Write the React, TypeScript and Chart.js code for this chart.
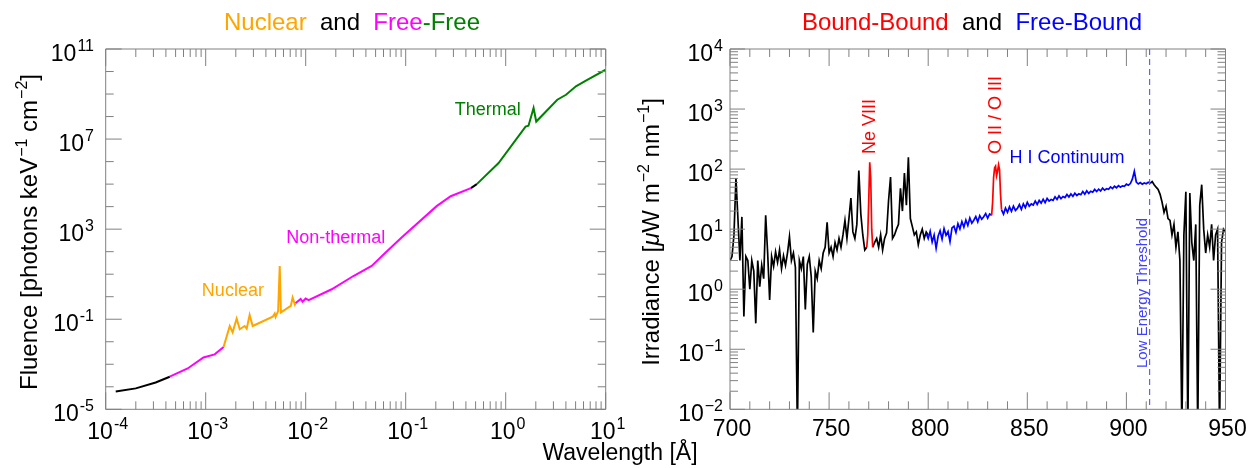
import React, { useEffect, useRef } from 'react';
import { Chart, registerables } from 'chart.js';
Chart.register(...registerables);

const FONT = '"Liberation Sans", Arial, Helvetica, sans-serif';
const W = 1255;
const H = 468;

// ---------------- Left panel data (wavelength [Å], fluence) ----------------
const leftBlackLowWl = [1.26e-4, 2.0e-4, 3.16e-4, 4.37e-4];
const leftBlackLowFl = [6.2e-5, 8.5e-5, 1.55e-4, 2.8e-4];

const leftMagentaLowWl = [4.37e-4, 6.6e-4, 9.5e-4, 1.23e-3, 1.51e-3];
const leftMagentaLowFl = [2.8e-4, 6.5e-4, 2.0e-3, 2.75e-3, 5.9e-3];

const nuclearWl = [1.51e-3, 1.74e-3, 1.86e-3, 2.04e-3, 2.19e-3, 2.45e-3, 2.57e-3, 2.75e-3, 2.95e-3, 4.68e-3, 4.9e-3, 5.0e-3, 5.3e-3, 5.5e-3, 5.65e-3, 7.1e-3, 7.4e-3, 7.8e-3, 7.9e-3];
const nuclearFl = [5.9e-3, 0.05, 0.026, 0.107, 0.036, 0.05, 0.038, 0.155, 0.05, 0.13, 0.18, 0.126, 0.23, 23, 0.2, 0.39, 0.91, 0.45, 0.51];

const nonThermalWl = [7.9e-3, 8.9e-3, 9.3e-3, 1.0e-2, 1.07e-2, 1.82e-2, 3.0e-2, 4.57e-2, 6.3e-2, 9.1e-2, 0.204, 0.282, 0.449];
const nonThermalFl = [0.51, 0.79, 0.6, 0.83, 0.71, 2.14, 8.3, 23.4, 91, 427, 1.05e4, 2.9e4, 6.6e4];

const leftBlackHighWl = [0.449, 0.514];
const leftBlackHighFl = [6.6e4, 1.0e5];

const thermalWl = [0.514, 0.849, 1.58, 1.69, 1.9, 2.02, 3.28, 4.01, 5.04, 6.34, 10];
const thermalFl = [1.0e5, 8.6e5, 3.6e7, 3.9e7, 2.4e8, 6.0e7, 5.6e8, 9.3e8, 2.2e9, 3.9e9, 1.2e10];

const leftXExps = [-4, -3, -2, -1, 0, 1];
const leftYTickExps = [-5, -4, -3, -2, -1, 0, 1, 2, 3, 4, 5, 6, 7, 8, 9, 10, 11];
const leftYLabelExps = [-5, -1, 3, 7, 11];

// ---------------- Right panel data (wavelength [Å], irradiance) ----------------
const blackShortStart = 700; // 1 Å sampling
const blackShortIrr = [
  3, 3.5, 8, 71, 15, 3, 16, 0.35, 3.5, 3,
  1, 3, 2, 0.27, 3, 1.1, 2.5, 1.5, 17, 4,
  0.66, 3.5, 2.4, 4.2, 2.8, 4.5, 2.2, 3.6, 2.5, 4,
  7.5, 3, 4, 2.3, 0.004, 3, 2.2, 3.5, 0.46, 2.6,
  3.5, 1.6, 0.19, 2, 1.5, 3, 2.2, 4, 5, 13,
  4, 5, 3.5, 6, 4.5, 7, 5, 8, 14, 7,
  15, 33, 9, 7, 12, 95, 18, 8, 4.5, 5,
  null, null, 5, 6, 7, 5, 8, 4.5, 7, 8.6,
  30, 74, 7, 8, 10, 12, 48, 20, 86, 25,
  158, 15, 11, 8, 9, 5.5, 8, 10, 7, 9,
  8,
];

const blueStart = 799; // 1 Å sampling
const blueIrr = [
  8.5, 7, 9.2, 6.1, 8, 4.8, 7.6, 9.4, 6.8, 10.2,
  7.9, 9.1, 6.2, 10.5, 11.2, 8.8, 12.3, 10.1, 13.4, 10.8,
  14.2, 11.5, 15.3, 12.6, 14.1, 16.2, 13.2, 16.8, 14.6, 16.1,
  18.2, 15.2, 17.9, 17, null, null, null, null, 21, 17.8,
  22.4, 19.1, 23.5, 19.8, 24.2, 20.5, 22.1, 25.6, 21.3, 26.4,
  22.8, 27.9, 24.1, 26.3, 25.2, 29.4, 25.8, 30.1, 27.2, 31.5,
  27.6, 32.4, 29.3, 31.1, 30.2, 34.5, 31.2, 35.8, 32.1, 34.9,
  33.6, 37.8, 34.2, 38.5, 35.1, 39.7, 36.4, 38.8, 37.5, 42.3,
  38.1, 43.6, 39.4, 42.8, 41.2, 45.9, 42.4, 46.3, 43.1, 48.2,
  44.5, 47.1, 46.2, 50.4, 47.3, 51.8, 48.9, 53.2, 50.1, 52.6,
  51.7, 56.1, 53.8, 57.4, 68, 92, 61, 56.5, 59.8, 56.2,
  58.9, 57.1, 60.2, 58,
];

const blackLongStart = 912; // 1 Å sampling
const blackLongIrr = [
  58, 62, 55, 50, 46, 38, 28, 19, 24, 15,
  14, 8, 12, 5, 9, 3, 0.004, 8, 42, 0.004,
  40, 6, 3, 12, 0.004, 25, 55, 10, 4, 8,
  5, 12, 3, 8, 10, 0.004, 6, 10, 9,
];

const neViiiWl = [769, 769.5, 770, 770.5, 771, 771.5, 772];
const neViiiIrr = [5, 8, 30, 130, 70, 10, 5];

const oxygenWl = [832, 832.5, 833, 833.5, 834, 834.5, 835, 835.5, 836, 836.5, 837];
const oxygenIrr = [17, 28, 72, 105, 112, 78, 92, 118, 98, 38, 21];

const thresholdWl = 911.7;
const rightXTicks = [700, 750, 800, 850, 900, 950];
const rightYExps = [-2, -1, 0, 1, 2, 3, 4];

// ---------------- colours ----------------
const ORANGE = '#ffa500';
const MAGENTA = '#ff00ff';
const GREEN = '#008000';
const RED = '#ff0000';
const BLUE = '#0000ff';
const AXIS = '#808080';

type Seg = { text: string; color: string; italic?: boolean; sup?: boolean };

function fontFor(s: Seg, size: number, supSize: number) {
  return `${s.italic ? 'italic ' : ''}${s.sup ? supSize : size}px ${FONT}`;
}

function drawSegments(ctx: CanvasRenderingContext2D, segs: Seg[], x: number, y: number, size: number, supSize: number, raise: number, align: 'left' | 'center' | 'right') {
  ctx.textAlign = 'left';
  ctx.textBaseline = 'alphabetic';
  const widths = segs.map((s) => {
    ctx.font = fontFor(s, size, supSize);
    return ctx.measureText(s.text).width + (s.sup ? 1 : 0);
  });
  const total = widths.reduce((a, b) => a + b, 0);
  let cx = align === 'center' ? x - total / 2 : align === 'right' ? x - total : x;
  segs.forEach((s, i) => {
    ctx.font = fontFor(s, size, supSize);
    ctx.fillStyle = s.color;
    ctx.fillText(s.text, cx + (s.sup ? 1 : 0), s.sup ? y - raise : y);
    cx += widths[i];
  });
}

function pow(exp: number, minus: string): Seg[] {
  const e = exp < 0 ? minus + Math.abs(exp) : String(exp);
  return [
    { text: '10', color: '#000' },
    { text: e, color: '#000', sup: true },
  ];
}

function line(ctx: CanvasRenderingContext2D, x1: number, y1: number, x2: number, y2: number) {
  ctx.moveTo(x1, y1);
  ctx.lineTo(x2, y2);
}

function ds(xs: number[], ys: (number | null)[], color: string, width: number, order: number) {
  return {
    data: xs.map((x, i) => ({ x, y: ys[i] })),
    borderColor: color,
    borderWidth: width,
    pointRadius: 0,
    tension: 0,
    fill: false,
    spanGaps: false,
    order,
  };
}

function grid(start: number, n: number) {
  const out: number[] = [];
  for (let i = 0; i < n; i++) out.push(start + i);
  return out;
}

const leftPlugin = {
  id: 'leftDecor',
  afterDraw(chart: any) {
    const ctx: CanvasRenderingContext2D = chart.ctx;
    const { left, right, top, bottom } = chart.chartArea;
    const xs = chart.scales.x;
    const ys = chart.scales.y;
    ctx.save();
    ctx.strokeStyle = AXIS;
    ctx.lineWidth = 1;
    ctx.beginPath();
    ctx.rect(left, top, right - left, bottom - top);
    leftXExps.forEach((d) => {
      const px = xs.getPixelForValue(Math.pow(10, d));
      line(ctx, px, bottom, px, bottom - 17);
      line(ctx, px, top, px, top + 17);
      if (d < leftXExps[leftXExps.length - 1]) {
        for (let k = 2; k <= 9; k++) {
          const p2 = xs.getPixelForValue(k * Math.pow(10, d));
          line(ctx, p2, bottom, p2, bottom - 8);
          line(ctx, p2, top, p2, top + 8);
        }
      }
    });
    leftYTickExps.forEach((d) => {
      const py = ys.getPixelForValue(Math.pow(10, d));
      const len = leftYLabelExps.includes(d) ? 16 : 8;
      line(ctx, left, py, left + len, py);
      line(ctx, right, py, right - len, py);
    });
    ctx.stroke();

    // tick labels
    leftXExps.forEach((d) => {
      const px = xs.getPixelForValue(Math.pow(10, d));
      drawSegments(ctx, pow(d, '-'), px + 2, 439, 23, 16, 10, 'center');
    });
    leftYLabelExps.forEach((d) => {
      const py = ys.getPixelForValue(Math.pow(10, d));
      drawSegments(ctx, pow(d, '-'), 94, py + 12, 23, 16, 10, 'right');
    });

    // title
    drawSegments(ctx, [
      { text: 'Nuclear', color: ORANGE },
      { text: '  and  ', color: '#000' },
      { text: 'Free', color: MAGENTA },
      { text: '-', color: GREEN },
      { text: 'Free', color: GREEN },
    ], 352, 30, 24, 16, 10, 'center');

    // y axis title
    ctx.save();
    ctx.translate(37, 232);
    ctx.rotate(-Math.PI / 2);
    drawSegments(ctx, [
      { text: 'Fluence [photons keV', color: '#000' },
      { text: '\u22121', color: '#000', sup: true },
      { text: ' cm', color: '#000' },
      { text: '\u22122', color: '#000', sup: true },
      { text: ']', color: '#000' },
    ], 0, 0, 24, 16, 10, 'center');
    ctx.restore();

    // annotations
    ctx.textAlign = 'center';
    ctx.textBaseline = 'middle';
    ctx.font = `18px ${FONT}`;
    ctx.fillStyle = GREEN;
    ctx.fillText('Thermal', xs.getPixelForValue(0.66), ys.getPixelForValue(2.0e8));
    ctx.fillStyle = MAGENTA;
    ctx.fillText('Non-thermal', xs.getPixelForValue(0.02), ys.getPixelForValue(400));
    ctx.fillStyle = ORANGE;
    ctx.fillText('Nuclear', xs.getPixelForValue(1.87e-3), ys.getPixelForValue(1.7));
    ctx.restore();
  },
};

const rightPlugin = {
  id: 'rightDecor',
  afterDraw(chart: any) {
    const ctx: CanvasRenderingContext2D = chart.ctx;
    const { left, right, top, bottom } = chart.chartArea;
    const xs = chart.scales.x;
    const ys = chart.scales.y;
    ctx.save();

    // threshold dashed line
    const tx = xs.getPixelForValue(thresholdWl);
    ctx.strokeStyle = '#6060ff';
    ctx.lineWidth = 1.2;
    ctx.setLineDash([6, 4]);
    ctx.beginPath();
    line(ctx, tx, top, tx, bottom);
    ctx.stroke();
    ctx.setLineDash([]);

    ctx.strokeStyle = AXIS;
    ctx.lineWidth = 1;
    ctx.beginPath();
    ctx.rect(left, top, right - left, bottom - top);
    for (let v = rightXTicks[0]; v <= rightXTicks[rightXTicks.length - 1]; v += 10) {
      const px = xs.getPixelForValue(v);
      const len = rightXTicks.includes(v) ? 17 : 8;
      line(ctx, px, bottom, px, bottom - len);
      line(ctx, px, top, px, top + len);
    }
    rightYExps.forEach((d) => {
      const py = ys.getPixelForValue(Math.pow(10, d));
      line(ctx, left, py, left + 15, py);
      line(ctx, right, py, right - 15, py);
      if (d < rightYExps[rightYExps.length - 1]) {
        for (let k = 2; k <= 9; k++) {
          const p2 = ys.getPixelForValue(k * Math.pow(10, d));
          line(ctx, left, p2, left + 8, p2);
          line(ctx, right, p2, right - 8, p2);
        }
      }
    });
    ctx.stroke();

    // tick labels
    ctx.fillStyle = '#000';
    ctx.font = `23px ${FONT}`;
    ctx.textAlign = 'center';
    ctx.textBaseline = 'alphabetic';
    rightXTicks.forEach((v) => {
      ctx.fillText(String(v), xs.getPixelForValue(v) + 2, 436);
    });
    rightYExps.forEach((d) => {
      const py = ys.getPixelForValue(Math.pow(10, d));
      drawSegments(ctx, pow(d, '\u2212'), 723, py + 12, 23, 16, 10, 'right');
    });

    // title
    drawSegments(ctx, [
      { text: 'Bound-Bound', color: RED },
      { text: '  and  ', color: '#000' },
      { text: 'Free-Bound', color: BLUE },
    ], 972, 30, 24, 16, 10, 'center');

    // y axis title
    ctx.save();
    ctx.translate(659, 232);
    ctx.rotate(-Math.PI / 2);
    drawSegments(ctx, [
      { text: 'Irradiance [', color: '#000' },
      { text: '\u03bc', color: '#000', italic: true },
      { text: 'W m', color: '#000' },
      { text: '\u22122', color: '#000', sup: true },
      { text: ' nm', color: '#000' },
      { text: '\u22121', color: '#000', sup: true },
      { text: ']', color: '#000' },
    ], 0, 0, 24, 16, 10, 'center');
    ctx.restore();

    // shared x axis title
    drawSegments(ctx, [{ text: 'Wavelength [\u00c5]', color: '#000' }], 620, 460, 23, 16, 10, 'center');

    // annotations
    const rot = (text: string, color: string, size: number, x: number, y: number) => {
      ctx.save();
      ctx.translate(xs.getPixelForValue(x), ys.getPixelForValue(y));
      ctx.rotate(-Math.PI / 2);
      ctx.font = `${size}px ${FONT}`;
      ctx.fillStyle = color;
      ctx.textAlign = 'center';
      ctx.textBaseline = 'middle';
      ctx.fillText(text, 0, 0);
      ctx.restore();
    };
    rot('Ne VIII', RED, 18, 770.4, 513);
    rot('O II / O III', RED, 18, 834.2, 794);
    rot('Low Energy Threshold', '#4040ff', 15, 908.1, 0.865);
    ctx.font = `18px ${FONT}`;
    ctx.fillStyle = BLUE;
    ctx.textAlign = 'center';
    ctx.textBaseline = 'middle';
    ctx.fillText('H I Continuum', xs.getPixelForValue(870), ys.getPixelForValue(151));
    ctx.restore();
  },
};

function baseOptions(padding: any, scales: any) {
  return {
    animation: false,
    responsive: false,
    maintainAspectRatio: false,
    devicePixelRatio: 1,
    events: [],
    layout: { padding },
    plugins: { legend: { display: false }, tooltip: { enabled: false }, title: { display: false } },
    scales,
  };
}

export default function App() {
  const leftRef = useRef<HTMLCanvasElement>(null);
  const rightRef = useRef<HTMLCanvasElement>(null);

  useEffect(() => {
    document.body.style.margin = '0';
    const left = new Chart(leftRef.current as HTMLCanvasElement, {
      type: 'line',
      data: {
        datasets: [
          ds(leftBlackLowWl, leftBlackLowFl, '#000', 2, 1),
          ds(leftMagentaLowWl, leftMagentaLowFl, MAGENTA, 2, 1),
          ds(nuclearWl, nuclearFl, ORANGE, 2, 0),
          ds(nonThermalWl, nonThermalFl, MAGENTA, 2, 1),
          ds(leftBlackHighWl, leftBlackHighFl, '#000', 2, 1),
          ds(thermalWl, thermalFl, GREEN, 2, 1),
        ] as any,
      },
      options: baseOptions(
        { left: 105.7, right: W - 605.7, top: 49, bottom: H - 409.3 },
        {
          x: { type: 'logarithmic', min: 1e-4, max: 10, display: false },
          y: { type: 'logarithmic', min: 1e-5, max: 1e11, display: false },
        }
      ) as any,
      plugins: [leftPlugin],
    });

    const right = new Chart(rightRef.current as HTMLCanvasElement, {
      type: 'line',
      data: {
        datasets: [
          ds(neViiiWl, neViiiIrr, RED, 1.7, 0),
          ds(oxygenWl, oxygenIrr, RED, 1.7, 0),
          ds(grid(blueStart, blueIrr.length), blueIrr, BLUE, 1.7, 1),
          ds(grid(blackShortStart, blackShortIrr.length), blackShortIrr, '#000', 1.7, 2),
          ds(grid(blackLongStart, blackLongIrr.length), blackLongIrr, '#000', 1.7, 2),
        ] as any,
      },
      options: baseOptions(
        { left: 730, right: W - 1225.5, top: 49, bottom: H - 409.3 },
        {
          x: { type: 'linear', min: 700, max: 950, display: false },
          y: { type: 'logarithmic', min: 1e-2, max: 1e4, display: false },
        }
      ) as any,
      plugins: [rightPlugin],
    });

    return () => {
      left.destroy();
      right.destroy();
    };
  }, []);

  const cstyle: React.CSSProperties = { position: 'absolute', left: 0, top: 0, width: W, height: H, pointerEvents: 'none' };
  return (
    <div style={{ position: 'relative', width: W, height: H, background: '#fff' }}>
      <canvas ref={leftRef} width={W} height={H} style={cstyle} />
      <canvas ref={rightRef} width={W} height={H} style={cstyle} />
    </div>
  );
}
